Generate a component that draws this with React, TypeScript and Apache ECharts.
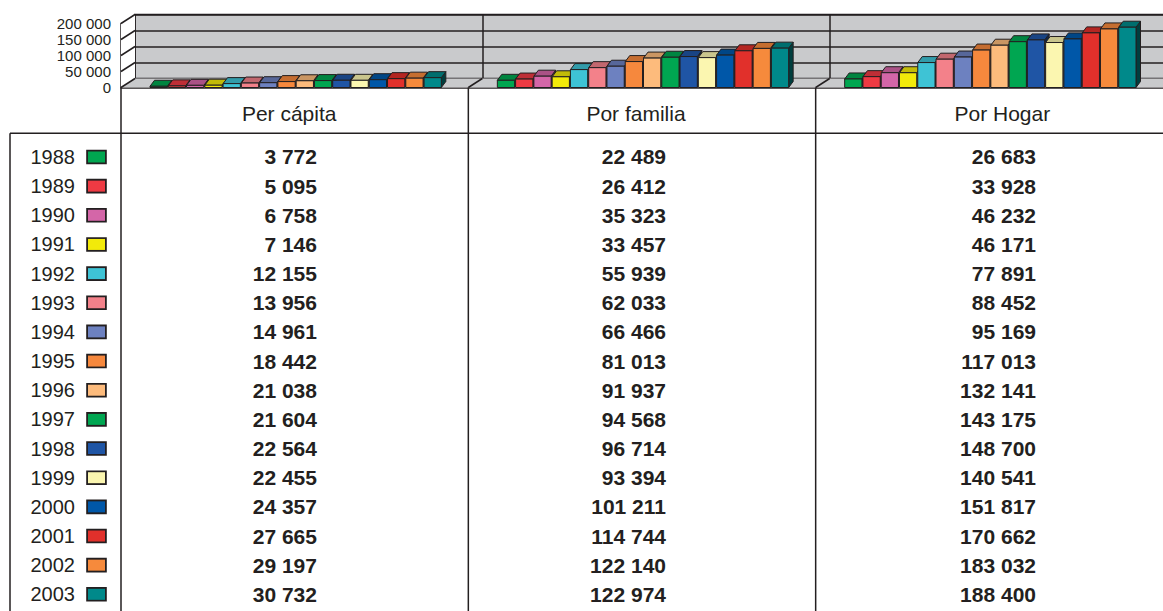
import React, { useEffect, useRef } from "react";
import * as echarts from "echarts";

const years = ["1988", "1989", "1990", "1991", "1992", "1993", "1994", "1995", "1996", "1997", "1998", "1999", "2000", "2001", "2002", "2003"];
const groups = ["Per cápita", "Por familia", "Por Hogar"];
const perCapita = [3772, 5095, 6758, 7146, 12155, 13956, 14961, 18442, 21038, 21604, 22564, 22455, 24357, 27665, 29197, 30732];
const porFamilia = [22489, 26412, 35323, 33457, 55939, 62033, 66466, 81013, 91937, 94568, 96714, 93394, 101211, 114744, 122140, 122974];
const porHogar = [26683, 33928, 46232, 46171, 77891, 88452, 95169, 117013, 132141, 143175, 148700, 140541, 151817, 170662, 183032, 188400];
const yearColors = ["#00a650", "#ee3a43", "#d466a8", "#f2ea0a", "#3ec3d5", "#f3818a", "#6d81c0", "#f6883d", "#fdbb7c", "#00a651", "#1f55a5", "#fbf6b0", "#0057a8", "#e1302b", "#f68a3c", "#00898a"];
const axisMin = 0;
const axisMax = 200000;
const axisStep = 50000;

const INK = "#231f20";
const WALL = "#c9cacc";
const FONT = "'Liberation Sans', Arial, sans-serif";
const W = 1163;
const H = 611;
const FRONT_LEFT = 121;
const BACK_LEFT = 135;
const FRONT_BASE = 87.5;
const BACK_BASE = 78.5;
const PLOT_H = 64;
const PLOT_W = W - FRONT_LEFT;
const TABLE_TOP = 142.4;
const TABLE_BOTTOM = 608.9;
const valueOffsets = [22.3, 24, 46.7];

const fmt = (v: number) => String(v).replace(/\B(?=(\d{3})+(?!\d))/g, " ");

function shade(hex: string, f: number) {
  const n = parseInt(hex.slice(1), 16);
  const r = Math.round(((n >> 16) & 255) * f);
  const g = Math.round(((n >> 8) & 255) * f);
  const b = Math.round((n & 255) * f);
  return `rgb(${r},${g},${b})`;
}

export default function App() {
  const ref = useRef<HTMLDivElement>(null);
  useEffect(() => {
    document.body.style.margin = "0";
    if (!ref.current) return;
    const chart = echarts.init(ref.current, null, { renderer: "svg" });
    const seriesValues = [perCapita, porFamilia, porHogar];
    const data: number[][] = [];
    seriesValues.forEach((arr, g) => arr.forEach((v, i) => data.push([g, i, v])));

    const yearRich: any = {
      y: { fontSize: 20, color: INK, fontFamily: FONT },
      g: { width: 13 },
    };
    yearColors.forEach((c, i) => {
      yearRich["s" + i] = { width: 17, height: 11, backgroundColor: c, borderColor: INK, borderWidth: 1.8 };
    });

    const option: any = {
      animation: false,
      grid: [
        { left: BACK_LEFT, top: BACK_BASE - PLOT_H, width: PLOT_W, height: PLOT_H, outerBoundsMode: "none", containLabel: false, show: true, backgroundColor: WALL, borderColor: INK, borderWidth: 1.5 },
        { left: FRONT_LEFT, top: FRONT_BASE - PLOT_H, width: PLOT_W, height: PLOT_H, outerBoundsMode: "none", containLabel: false },
        { left: FRONT_LEFT, top: TABLE_TOP, width: PLOT_W, height: TABLE_BOTTOM - TABLE_TOP, outerBoundsMode: "none", containLabel: false },
      ],
      xAxis: [
        {
          gridIndex: 0, type: "category", data: groups,
          axisLine: { show: false }, axisTick: { show: false }, axisLabel: { show: false },
          splitLine: { show: true, interval: 0, lineStyle: { color: INK, width: 1.5 } },
        },
        {
          gridIndex: 1, type: "category", data: groups,
          axisLine: { show: true, lineStyle: { color: INK, width: 1.5 } },
          axisTick: { show: false }, splitLine: { show: false },
          axisLabel: {
            interval: 0, margin: 26, verticalAlign: "middle",
            formatter: (v: string, i: number) => `{h${i}|${v}}`,
            rich: {
              h0: { fontSize: 21, color: INK, fontFamily: FONT, padding: [0, 11, 0, 0] },
              h1: { fontSize: 21, color: INK, fontFamily: FONT, padding: [0, 12, 0, 0] },
              h2: { fontSize: 21, color: INK, fontFamily: FONT, padding: [0, 0, 0, 26] },
            },
          },
        },
        { gridIndex: 2, type: "category", data: groups, show: false },
      ],
      yAxis: [
        {
          gridIndex: 0, type: "value", min: axisMin, max: axisMax, interval: axisStep,
          axisLine: { show: false }, axisTick: { show: false }, axisLabel: { show: false },
          splitLine: { show: true, lineStyle: { color: INK, width: 1.5 } },
        },
        {
          gridIndex: 1, type: "value", min: axisMin, max: axisMax, interval: axisStep,
          axisLine: { show: true, lineStyle: { color: INK, width: 1.5 } },
          axisTick: { show: false }, splitLine: { show: false },
          axisLabel: { fontSize: 15, color: INK, fontFamily: FONT, margin: 10, formatter: (v: number) => fmt(v) },
        },
        {
          gridIndex: 2, type: "category", data: years, inverse: true,
          axisLine: { show: false }, axisTick: { show: false }, splitLine: { show: false },
          axisLabel: {
            margin: 16, interval: 0,
            formatter: (v: string, i: number) => `{y|${v}}{g|}{s${i}|}`,
            rich: yearRich,
          },
        },
      ],
      series: [
        {
          type: "custom", xAxisIndex: 1, yAxisIndex: 1, z: 5, clip: false,
          data,
          encode: { x: 0, y: 2 },
          renderItem: (params: any, api: any) => {
            const g = api.value(0);
            const i = api.value(1);
            const v = api.value(2);
            const c = api.coord([g, 0]);
            const top = api.coord([g, v])[1];
            const bw = api.size([1, 0])[0];
            const slot = (bw - 55) / 16;
            const x0 = c[0] - bw / 2 + 29 + i * slot;
            const w = slot - 1;
            const base = c[1];
            const dx = 4.5;
            const dy = -6;
            const color = yearColors[i];
            return {
              type: "group",
              children: [
                { type: "polygon", shape: { points: [[x0 + w, base], [x0 + w + dx, base + dy], [x0 + w + dx, top + dy], [x0 + w, top]] }, style: { fill: shade(color, 0.45), stroke: INK, lineWidth: 1 } },
                { type: "polygon", shape: { points: [[x0, top], [x0 + w, top], [x0 + w + dx, top + dy], [x0 + dx, top + dy]] }, style: { fill: shade(color, 0.8), stroke: INK, lineWidth: 1 } },
                { type: "rect", shape: { x: x0, y: top, width: w, height: base - top }, style: { fill: color, stroke: INK, lineWidth: 1 } },
              ],
            };
          },
        },
        {
          type: "custom", xAxisIndex: 2, yAxisIndex: 2, z: 5, clip: false,
          data,
          encode: { x: 0, y: 1 },
          renderItem: (params: any, api: any) => {
            const g = api.value(0);
            const i = api.value(1);
            const v = api.value(2);
            const c = api.coord([g, i]);
            return {
              type: "text",
              x: c[0] + valueOffsets[g],
              y: c[1],
              style: { text: fmt(v), fill: INK, font: `bold 21px ${FONT}`, align: "right", verticalAlign: "middle" },
            };
          },
        },
      ],
    };
    chart.setOption(option);

    // decorations computed from the axes' own scales
    const ticks: number[] = [];
    for (let v = axisMin; v <= axisMax; v += axisStep) ticks.push(v);
    const graphic: any[] = [];
    const f0 = chart.convertToPixel({ yAxisIndex: 1 }, 0) as number;
    const b0 = chart.convertToPixel({ yAxisIndex: 0 }, 0) as number;
    const fTop = chart.convertToPixel({ yAxisIndex: 1 }, axisMax) as number;
    const bTop = chart.convertToPixel({ yAxisIndex: 0 }, axisMax) as number;
    const lineStyle = { stroke: INK, lineWidth: 1.5 };
    graphic.push({ type: "polygon", z: 1, shape: { points: [[FRONT_LEFT, f0], [BACK_LEFT, b0], [W + 20, b0], [W + 20, f0]] }, style: { fill: WALL } });
    graphic.push({ type: "polygon", z: 1, shape: { points: [[FRONT_LEFT, f0], [BACK_LEFT, b0], [BACK_LEFT, bTop], [FRONT_LEFT, fTop]] }, style: { fill: "#ffffff" } });
    ticks.forEach((v) => {
      const fy = chart.convertToPixel({ yAxisIndex: 1 }, v) as number;
      const by = chart.convertToPixel({ yAxisIndex: 0 }, v) as number;
      graphic.push({ type: "line", z: 2, shape: { x1: FRONT_LEFT, y1: fy, x2: BACK_LEFT, y2: by }, style: lineStyle });
    });
    const bandW = PLOT_W / groups.length;
    for (let k = 1; k < groups.length; k++) {
      const fx = (chart.convertToPixel({ xAxisIndex: 1 }, groups[k]) as number) - bandW / 2;
      const bx = (chart.convertToPixel({ xAxisIndex: 0 }, groups[k]) as number) - bandW / 2;
      graphic.push({ type: "line", z: 2, shape: { x1: fx, y1: f0, x2: bx, y2: b0 }, style: lineStyle });
      graphic.push({ type: "line", z: 2, shape: { x1: fx, y1: f0, x2: fx, y2: H }, style: lineStyle });
    }
    graphic.push({ type: "line", z: 2, shape: { x1: FRONT_LEFT, y1: f0, x2: FRONT_LEFT, y2: H }, style: lineStyle });
    graphic.push({ type: "line", z: 2, shape: { x1: 10, y1: 133.3, x2: W, y2: 133.3 }, style: lineStyle });
    graphic.push({ type: "line", z: 2, shape: { x1: 10, y1: 133.3, x2: 10, y2: H }, style: lineStyle });
    chart.setOption({ graphic });

    return () => chart.dispose();
  }, []);
  return <div ref={ref} style={{ width: W, height: H }} />;
}
